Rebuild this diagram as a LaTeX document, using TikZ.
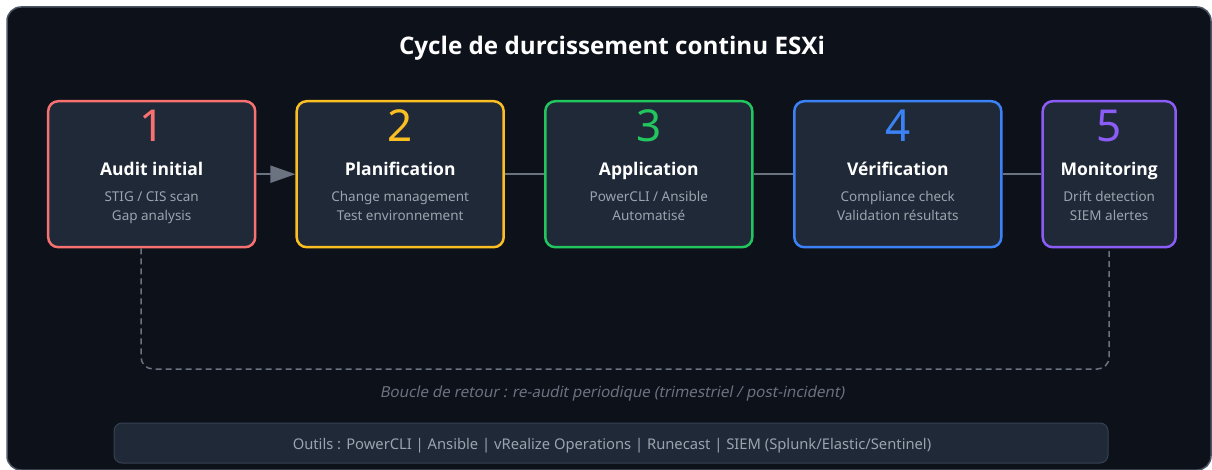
\documentclass[tikz,border=0pt]{standalone}
\usepackage{fontspec}
\setmainfont{Noto Sans}
\newfontfamily\boldfam{Open Sans}
\newfontfamily\obliquefont{Noto Sans}[FakeSlant=0.2]
\usetikzlibrary{arrows.meta,calc}
\definecolor{bg}{HTML}{0D111A}
\definecolor{framec}{HTML}{4B5563}
\definecolor{boxfill}{HTML}{1F2937}
\definecolor{cred}{HTML}{F87171}
\definecolor{cyellow}{HTML}{FBBF24}
\definecolor{cgreen}{HTML}{22C55E}
\definecolor{cblue}{HTML}{3B82F6}
\definecolor{cpurple}{HTML}{8B5CF6}
\definecolor{subtxt}{HTML}{9CA3AF}
\definecolor{conn}{HTML}{6B7280}
\definecolor{barstroke}{HTML}{374151}
\begin{document}
\begin{tikzpicture}[x=1pt,y=-1pt,
  stepbox/.style={draw, fill=boxfill, line width=2.5pt, rounded corners=10pt,
    minimum height=146pt, inner sep=0pt},
  numtxt/.style={anchor=base, inner sep=0pt, font=\fontsize{44}{44}\selectfont},
  titletxt/.style={anchor=base, inner sep=0pt, text=white, font=\boldfam\bfseries\fontsize{17.5}{17.5}\selectfont},
  subline/.style={anchor=base, inner sep=0pt, text=subtxt, font=\fontsize{13.5}{13.5}\selectfont},
  connline/.style={draw=conn, line width=2pt},
  loopline/.style={draw=conn, line width=1.5pt, dash pattern=on 6pt off 4pt, rounded corners=12pt}
]
\useasboundingbox (0,0) rectangle (1212,470);
\fill[white] (0,0) rectangle (1212,470);
\draw[framec, fill=bg, line width=1.5pt, rounded corners=14pt] (7,7) rectangle (1211,470);

\node[anchor=base, inner sep=0pt, text=white, font=\boldfam\bfseries\fontsize{24.2}{24.2}\selectfont] (title) at (612,54.5) {Cycle de durcissement continu ESXi};

% boxes
\node[stepbox, draw=cred, minimum width=207pt] (b1) at (151.7,174.2) {};
\node[stepbox, draw=cyellow, minimum width=207pt] (b2) at (400.2,174.2) {};
\node[stepbox, draw=cgreen, minimum width=207pt] (b3) at (648.8,174.2) {};
\node[stepbox, draw=cblue, minimum width=207pt] (b4) at (897.8,174.2) {};
\node[stepbox, draw=cpurple, minimum width=133pt] (b5) at (1109.2,174.2) {};

% numbers
\node[numtxt, text=cred] (n1) at (151.7,142) {1};
\node[numtxt, text=cyellow] (n2) at (400.2,142) {2};
\node[numtxt, text=cgreen] (n3) at (648.8,142) {3};
\node[numtxt, text=cblue] (n4) at (897.8,142) {4};
\node[numtxt, text=cpurple] (n5) at (1109.2,142) {5};

% titles
\node[titletxt] (t1) at (151.7,176) {Audit initial};
\node[titletxt] (t2) at (400.2,176) {Planification};
\node[titletxt] (t3) at (648.8,176) {Application};
\node[titletxt] (t4) at (897.8,176) {Vérification};
\node[titletxt] (t5) at (1109.2,176) {Monitoring};

% sub lines
\node[subline] (s1a) at (151.7,202) {STIG / CIS scan};
\node[subline] (s1b) at (151.7,221) {Gap analysis};
\node[subline] (s2a) at (400.2,202) {Change management};
\node[subline] (s2b) at (400.2,221) {Test environnement};
\node[subline] (s3a) at (648.8,202) {PowerCLI / Ansible};
\node[subline] (s3b) at (648.8,221) {Automatisé};
\node[subline] (s4a) at (897.8,202) {Compliance check};
\node[subline] (s4b) at (897.8,221) {Validation résultats};
\node[subline] (s5a) at (1109.2,202) {Drift detection};
\node[subline] (s5b) at (1109.2,221) {SIEM alertes};

% connectors
\draw[connline, -{Triangle[length=25pt,width=17pt]}] (b1.east) -- (b2.west);
\draw[connline] (b2.east) -- (b3.west);
\draw[connline] (b3.east) -- (b4.west);
\draw[connline] (b4.east) -- (b5.west);

% feedback loop
\coordinate (lb) at (141,369);
\coordinate (rb) at (1109.2,369);
\draw[loopline] (b1.south -| lb) -- (lb) -- (rb) -- (b5.south);

\node[anchor=base, inner sep=0pt, text=conn, font=\obliquefont\fontsize{15.2}{15.2}\selectfont] (looplabel) at (612,397) {Boucle de retour : re-audit periodique (trimestriel / post-incident)};

% tools bar
\node[draw=barstroke, fill=boxfill, line width=1pt, rounded corners=8pt, minimum width=994pt, minimum height=40pt, inner sep=0pt] (bar) at (611,443) {};
\node[anchor=base, inner sep=0pt, text=subtxt, font=\fontsize{14.75}{14.75}\selectfont] (bartext) at (612,449.5) {Outils : PowerCLI | Ansible | vRealize Operations | Runecast | SIEM (Splunk/Elastic/Sentinel)};
\end{tikzpicture}
\end{document}
